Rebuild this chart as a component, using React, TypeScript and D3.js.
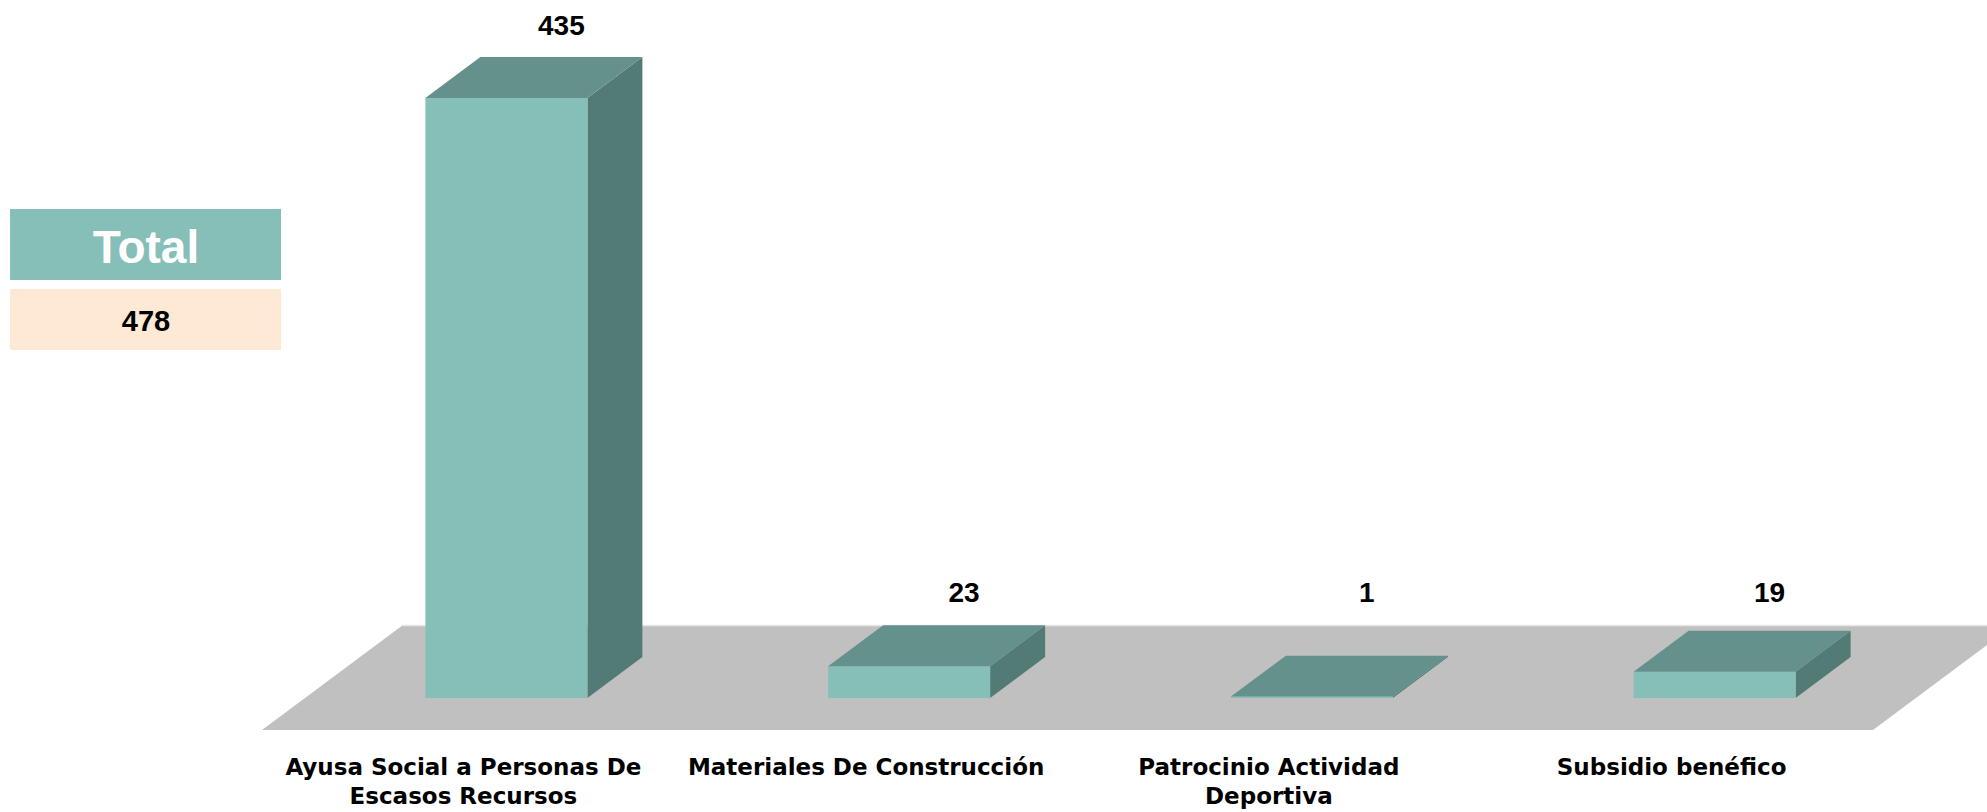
import React from 'react';
import * as d3 from 'd3';

const categories = [
  'Ayusa Social a Personas De Escasos Recursos',
  'Materiales De Construcción',
  'Patrocinio Actividad Deportiva',
  'Subsidio benéfico',
];
const values = [435, 23, 1, 19];
const totalLabel = 'Total';
const totalValue = 478;

const WIDTH = 1987;
const HEIGHT = 812;

const FRONT = '#86BFB7';
const TOP = '#64918B';
const SIDE = '#527B75';
const FLOOR = '#C0C0C0';
const PEACH = '#FDE9D4';

// floor plane: front edge + depth vector
const floorLeft = 262;
const floorRight = 1873;
const floorFrontY = 730;
const depthX = 141;
const depthY = -105;
const barFrontT = 0.305;
const barBackT = 0.695;
const barWidth = 162;

const wrap = (s: string, max: number) => {
  const lines: string[] = [];
  let cur = '';
  s.split(' ').forEach(w => {
    const next = cur ? `${cur} ${w}` : w;
    if (next.length > max && cur) {
      lines.push(cur);
      cur = w;
    } else cur = next;
  });
  if (cur) lines.push(cur);
  return lines;
};

const pts = (p: [number, number][]) => p.map(d => d.join(',')).join(' ');

const App: React.FC = () => {
  const xScale = d3.scaleBand<string>()
    .domain(categories)
    .range([floorLeft, floorRight])
    .padding(0);

  const hScale = d3.scaleLinear()
    .domain([0, d3.max(values) || 0])
    .range([0, 600]);

  const bw = xScale.bandwidth();
  const fx = depthX * barFrontT;
  const fy = depthY * barFrontT;
  const ddx = depthX * (barBackT - barFrontT);
  const ddy = depthY * (barBackT - barFrontT);

  const floorPts: [number, number][] = [
    [floorLeft, floorFrontY],
    [floorRight, floorFrontY],
    [floorRight + depthX, floorFrontY + depthY],
    [floorLeft + depthX, floorFrontY + depthY],
  ];

  const font = "'Century Gothic', 'Liberation Sans', Arial, sans-serif";
  const wideFont = "'Century Gothic', 'DejaVu Sans', sans-serif";

  return (
    <svg width={WIDTH} height={HEIGHT} style={{ position: 'absolute', left: 0, top: 0, background: '#fff' }}>
      {/* total box */}
      <rect x={10} y={209} width={271} height={71} fill={FRONT} />
      <text x={146} y={263} textAnchor="middle" fill="#fff" fontFamily={font} fontWeight="bold" fontSize={46}>
        {totalLabel}
      </text>
      <rect x={10} y={289} width={271} height={61} fill={PEACH} />
      <text x={146} y={331} textAnchor="middle" fill="#000" fontFamily={font} fontWeight="bold" fontSize={29}>
        {totalValue}
      </text>

      {/* floor */}
      <polygon points={pts(floorPts)} fill={FLOOR} />
      <line x1={floorLeft + depthX} x2={WIDTH} y1={floorFrontY + depthY + 0.5} y2={floorFrontY + depthY + 0.5}
        stroke="#E6E6E6" strokeWidth={1.5} />

      {categories.map((c, i) => {
        const v = values[i];
        const h = hScale(v);
        const x0 = (xScale(c) || 0) + (bw - barWidth) / 2 + fx;
        const x1 = x0 + barWidth;
        const yb = floorFrontY + fy;
        const yt = yb - h;
        const front: [number, number][] = [[x0, yb], [x1, yb], [x1, yt], [x0, yt]];
        const top: [number, number][] = [[x0, yt], [x1, yt], [x1 + ddx, yt + ddy], [x0 + ddx, yt + ddy]];
        const side: [number, number][] = [[x1, yb], [x1 + ddx, yb + ddy], [x1 + ddx, yt + ddy], [x1, yt]];
        const labelX = (x0 + x1) / 2 + ddx;
        const labelY = Math.min(yt + ddy - 32, floorFrontY + depthY - 33);
        return (
          <g key={c}>
            {h > 1 && <polygon points={pts(side)} fill={SIDE} />}
            {h > 1 && <polygon points={pts(front)} fill={FRONT} />}
            {h <= 1 && <line x1={x0} x2={x1} y1={yb} y2={yb} stroke={FRONT} strokeWidth={2} />}
            <polygon points={pts(top)} fill={TOP} />
            <text x={labelX} y={labelY} dy="0.35em" textAnchor="middle" fontFamily="'Liberation Sans', Arial, sans-serif"
              fontWeight="bold" fontSize={28} fill="#000">
              {v}
            </text>
          </g>
        );
      })}

      {/* category labels */}
      {categories.map(c => {
        const cx = (xScale(c) || 0) + bw / 2;
        return (
          <text key={c} x={cx} y={775} textAnchor="middle" fontFamily={wideFont} fontWeight="bold" fontSize={23} fill="#000">
            {wrap(c, 26).map((l, j) => (
              <tspan key={j} x={cx} dy={j === 0 ? 0 : 29}>{l}</tspan>
            ))}
          </text>
        );
      })}
    </svg>
  );
};

export default App;
